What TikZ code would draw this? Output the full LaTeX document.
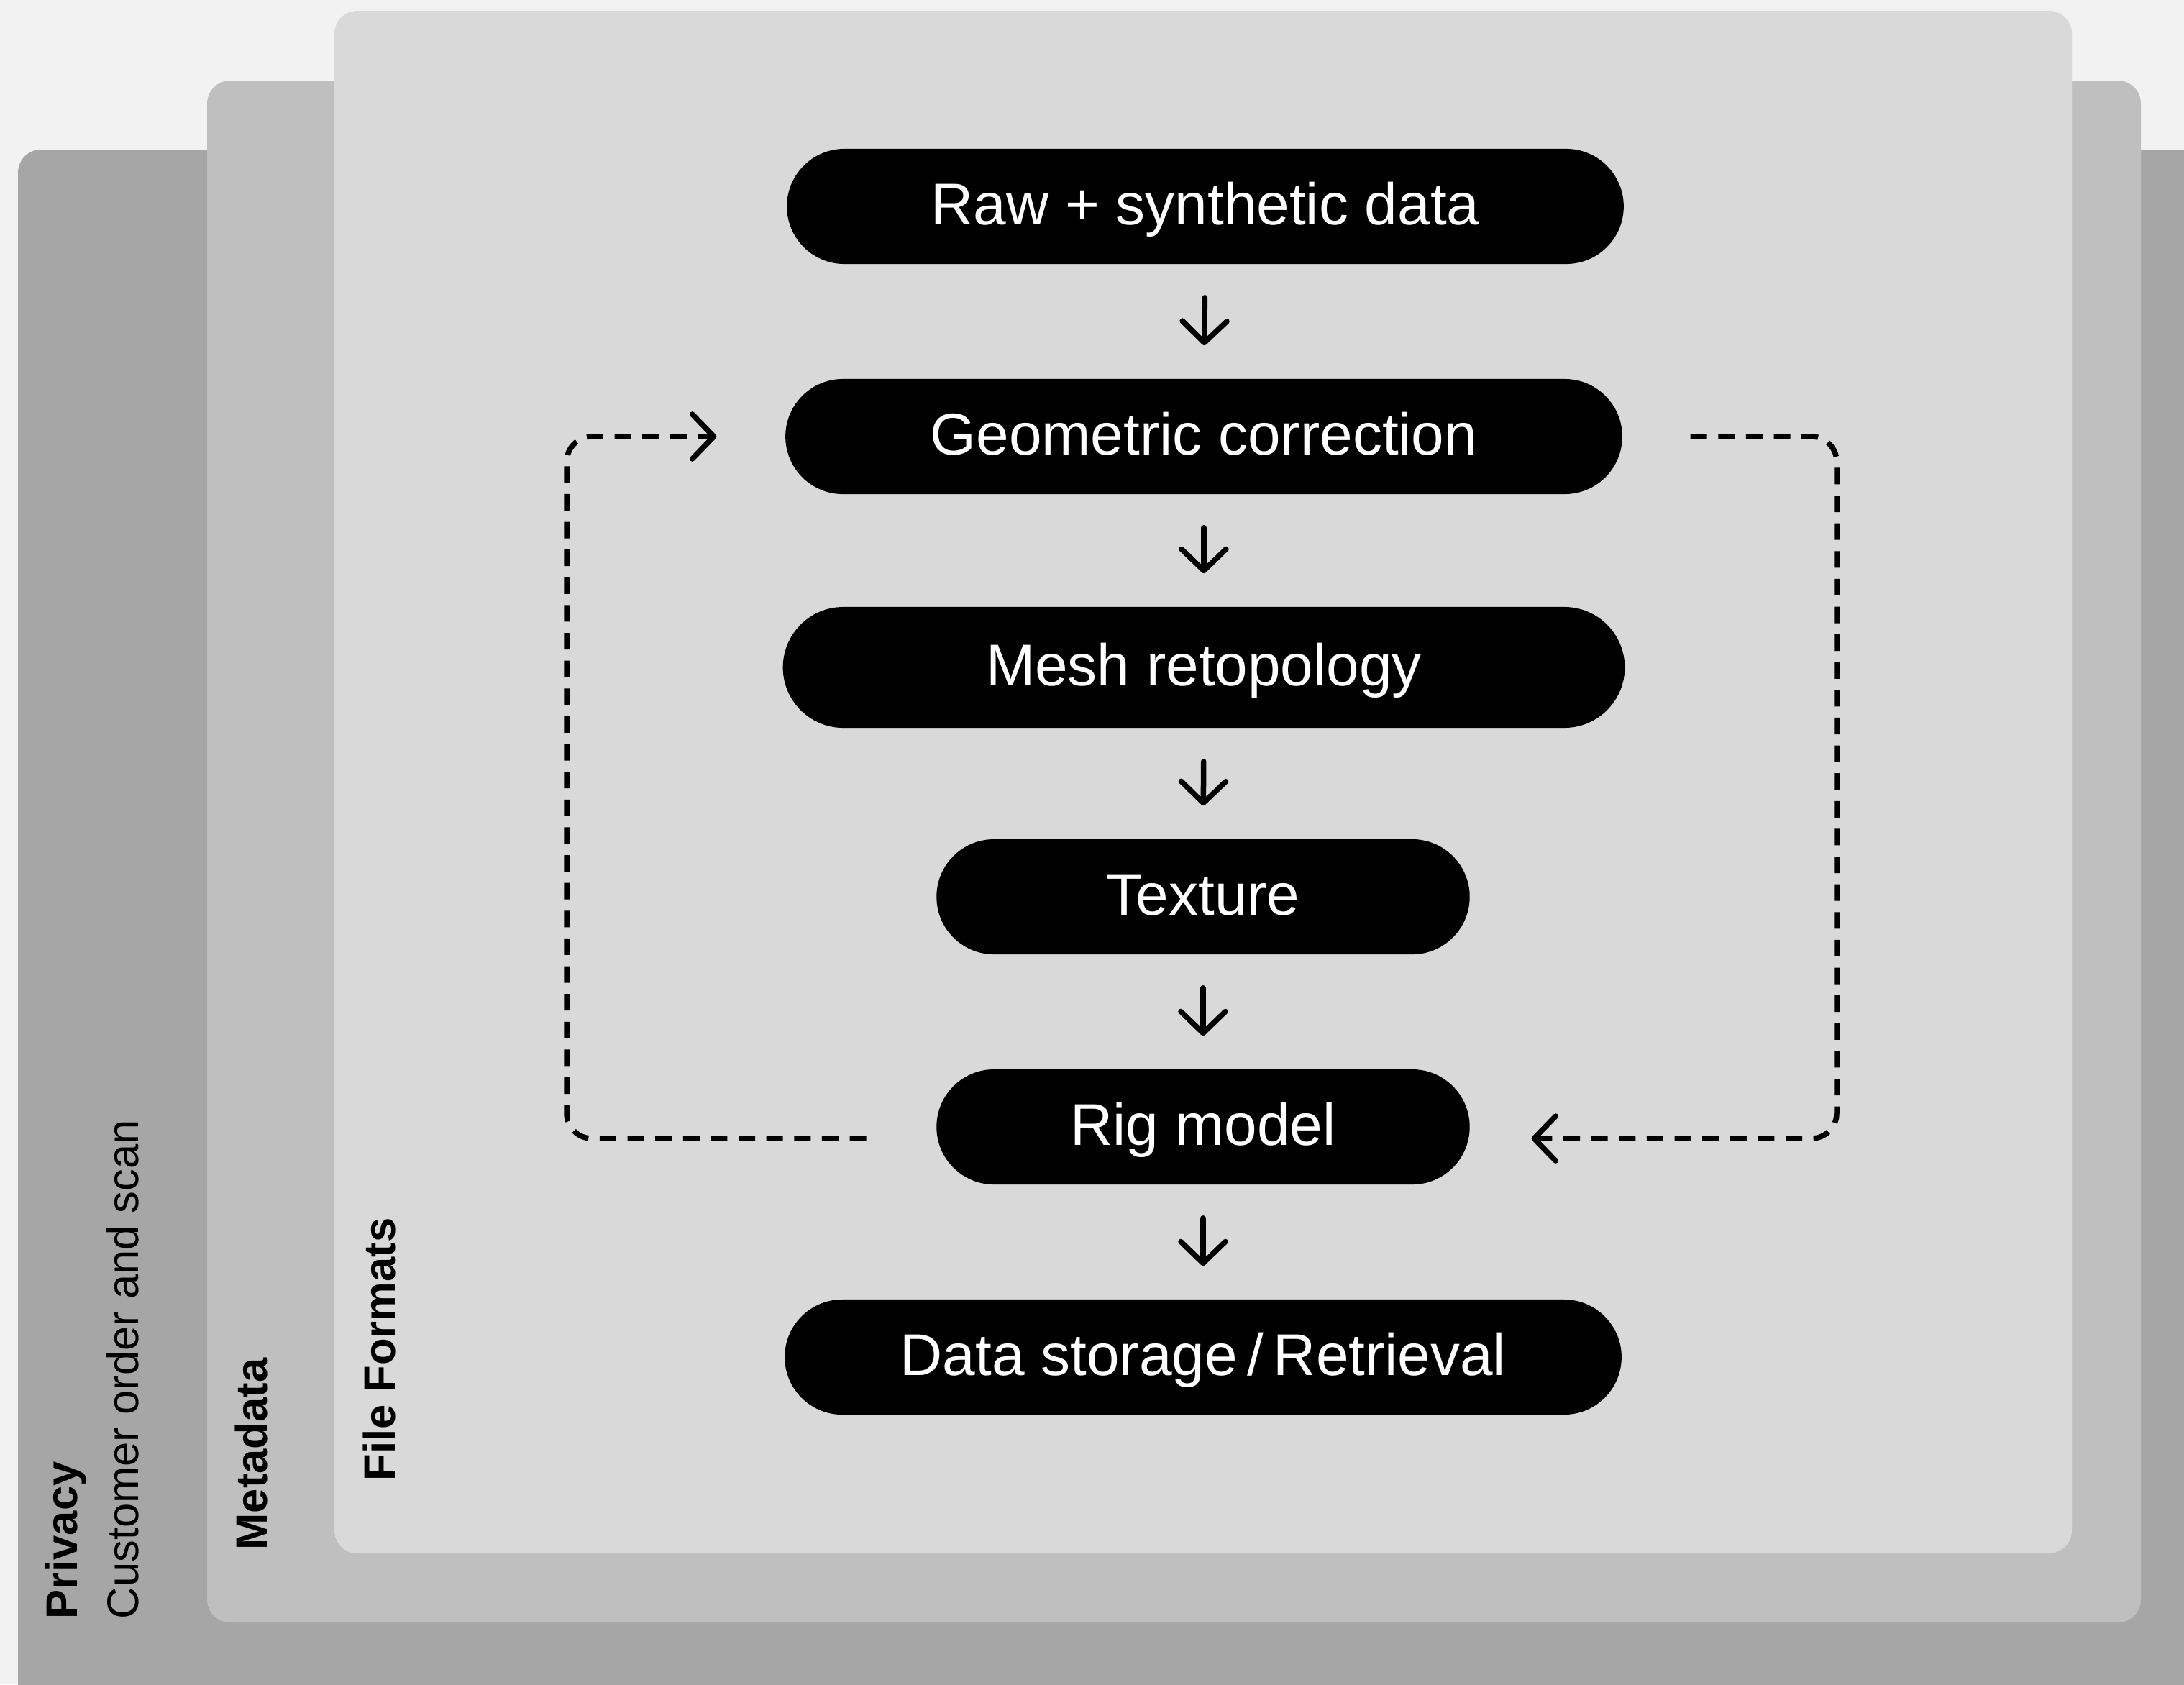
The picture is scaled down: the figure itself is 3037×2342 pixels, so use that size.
\documentclass[tikz,border=0pt]{standalone}
\usepackage{fontspec}
\setmainfont{Liberation Sans}
\usetikzlibrary{arrows.meta}
\definecolor{pagegray}{HTML}{F2F2F2}
\definecolor{privacygray}{HTML}{A6A6A6}
\definecolor{metagray}{HTML}{BFBFBF}
\definecolor{formatgray}{HTML}{D9D9D9}
\tikzset{stage/.style = {fill=black, text=white, rounded corners=0.8cm,
                         minimum width=11.63cm, minimum height=1.6cm,
                         text height=0.587cm, text depth=0.08cm,
                         font=\fontsize{23.3}{28}\selectfont},
         layer/.style = {rounded corners=0.32cm},
         sidelabel/.style = {rotate=90, anchor=base west, inner sep=0pt,
                             font=\fontsize{17.5}{21}\selectfont},
         flow/.style = {line width=0.075cm, line cap=round,
                        -{Straight Barb[length=0.3cm, width=0.62cm, line cap=round, line join=round]},
                        shorten <=0.46cm, shorten >=0.46cm},
         loop/.style = {line width=0.075cm, dash pattern=on 0.23cm off 0.156cm,
                        rounded corners=0.35cm,
                        -{Straight Barb[length=0.3cm, width=0.62cm, line cap=round, line join=round]}}}
\begin{document}
\begin{tikzpicture}[x=0.01cm, y=-0.01cm]
      \useasboundingbox (0, 0) rectangle (3037, 2342);
      \clip (0, 0) rectangle (3037, 2342);
      \fill [pagegray] (0, 0) rectangle (3037, 2342);
      % nested layers
      \fill [privacygray, layer] (25, 208) rectangle (3120, 2400);
      \fill [metagray, layer] (288, 112) rectangle (2977, 2256);
      \fill [formatgray, layer] (465, 15) rectangle (2881, 2160);
      \node [sidelabel, font=\fontsize{17.5}{21}\selectfont\bfseries] (privacy) at (107, 2252) {Privacy};
      \node [sidelabel] (scan) at (192, 2252) {Customer order and scan};
      \node [sidelabel, font=\fontsize{17.5}{21}\selectfont\bfseries] (metadata) at (371, 2156) {Metadata};
      \node [sidelabel, font=\fontsize{17.5}{21}\selectfont\bfseries] (formats) at (549, 2060) {File Formats};
      % pipeline
      \node [stage] (raw) at (1676, 287) {Raw + synthetic data};
      \node [stage] (geo) at (1674, 607) {Geometric correction};
      \node [stage, minimum width=11.7cm, minimum height=1.68cm, rounded corners=0.84cm] (mesh) at (1674, 928) {Mesh retopology};
      \node [stage, minimum width=7.41cm] (texture) at (1673, 1247) {Texture};
      \node [stage, minimum width=7.41cm] (rig) at (1673, 1567) {Rig model};
      \node [stage] (store) at (1673, 1887) {Data storage\,/\,Retrieval};
      \draw [flow] (raw.south) -- (geo.north);
      \draw [flow] (geo.south) -- (mesh.north);
      \draw [flow] (mesh.south) -- (texture.north);
      \draw [flow] (texture.south) -- (rig.north);
      \draw [flow] (rig.south) -- (store.north);
      % feedback loops
      \coordinate (leftbend) at (788, 1583);
      \coordinate (rightbend) at (2554, 1583);
      \draw [loop, shorten <=0.97cm, shorten >=0.95cm] ([yshift=-0.16cm]rig.west) -- (leftbend) |- (geo.west);
      \draw [loop, shorten <=0.94cm, shorten >=0.85cm] (geo.east) -| (rightbend) -- ([yshift=-0.16cm]rig.east);
    \end{tikzpicture}
\end{document}
